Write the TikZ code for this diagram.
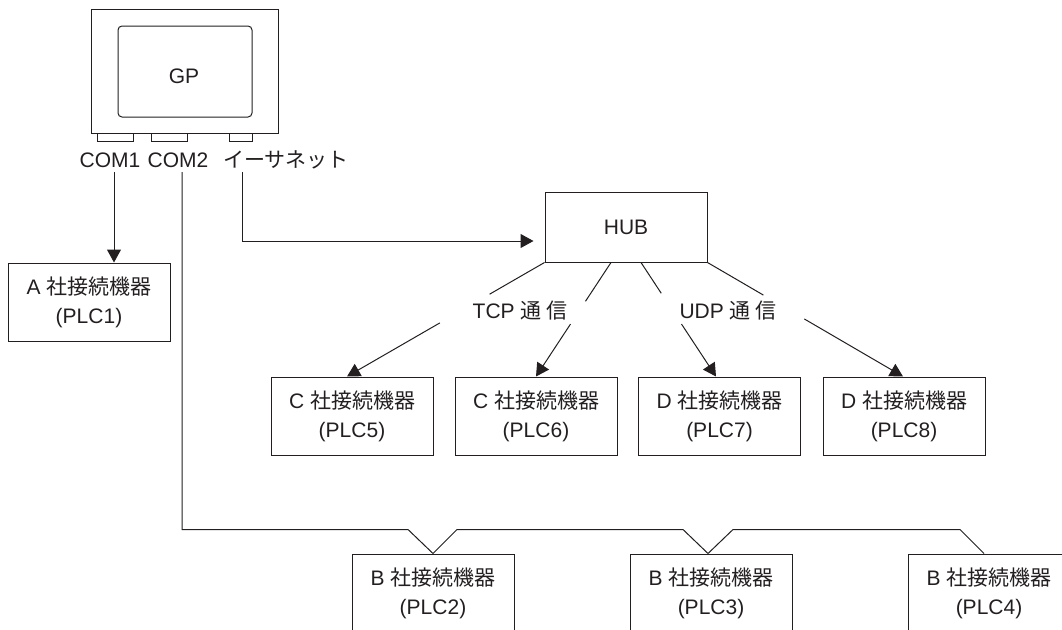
\documentclass[tikz,border=0pt]{standalone}
\usepackage{fontspec}
\setmainfont{Liberation Sans}
\newfontfamily\jp{Noto Sans CJK JP}
\usetikzlibrary{arrows.meta,calc}
\definecolor{ink}{RGB}{35,31,32}
\begin{document}
\begin{tikzpicture}[x=1pt,y=-1pt,
  ln/.style={draw=ink,line width=1pt},
  arr/.style={ln,-{Triangle[length=13pt,width=14pt]}},
  box/.style={draw=ink,line width=1pt,minimum width=162pt,minimum height=78pt,align=center,inner sep=0pt,text=ink,font=\fontsize{21}{29}\selectfont},
  lbl/.style={text=ink,font=\fontsize{21}{25}\selectfont,inner sep=0pt},
  port/.style={draw=ink,line width=1pt,minimum height=8pt,inner sep=0pt}]
\useasboundingbox (0,0) rectangle (1062,629);
\clip (0,0) rectangle (1062,629);
% GP unit
\node[draw=ink,line width=1pt,minimum width=187pt,minimum height=124pt,inner sep=0pt] (gp) at (184.5,71) {};
\node[draw=ink,line width=1pt,rounded corners=4pt,minimum width=134pt,minimum height=91pt,inner sep=0pt] (screen) at (185,71.5) {};
\node[lbl] (gptext) at (184,76) {GP};
\node[port,minimum width=36pt] (p1) at (115,137) {};
\node[port,minimum width=36pt] (p2) at (169,137) {};
\node[port,minimum width=23pt] (p3) at (240.5,137) {};
\node[lbl,anchor=base] (com1) at (110,167) {COM1};
\node[lbl,anchor=base] (com2) at (178,167) {COM2};
\node[lbl,anchor=base] (eth) at (286,167) {\jp イーサネット};
% devices
\node[box] (plc1) at (89,302) {A {\jp 社接続機器}\\(PLC1)};
\node[box,minimum height=70pt] (hub) at (626,227) {HUB};
\node[box] (plc5) at (352,416) {C {\jp 社接続機器}\\(PLC5)};
\node[box] (plc6) at (536,416) {C {\jp 社接続機器}\\(PLC6)};
\node[box] (plc7) at (719.5,416) {D {\jp 社接続機器}\\(PLC7)};
\node[box] (plc8) at (904,416) {D {\jp 社接続機器}\\(PLC8)};
\node[box] (plc2) at (433,593) {B {\jp 社接続機器}\\(PLC2)};
\node[box] (plc3) at (711,593) {B {\jp 社接続機器}\\(PLC3)};
\node[box] (plc4) at (989,593) {B {\jp 社接続機器}\\(PLC4)};
\node[lbl] (tcp) at (520,311) {TCP {\jp 通 信}};
\node[lbl] (udp) at (728,311) {UDP {\jp 通 信}};
% connector anchor points
\coordinate (c1) at (114,172);
\coordinate (c2) at (182,172);
\coordinate (e) at (242,172);
\coordinate (h1) at (hub.south west);
\coordinate (h2) at ($(hub.south)+(-15,0)$);
\coordinate (h3) at ($(hub.south)+(15,0)$);
\coordinate (h4) at (hub.south east);
\coordinate (t5) at ($(plc5.north)+(-5,0)$);
\coordinate (t6) at (plc6.north);
\coordinate (t7) at ($(plc7.north)+(-3.5,0)$);
\coordinate (t8) at ($(plc8.north)+(-1,0)$);
% COM1
\draw[arr] (c1) -- (c1 |- plc1.north);
% Ethernet
\draw[arr] (e) |- ($(hub.west)+(-11,14)$);
% COM2 bus
\draw[ln] (c2) |- ($(plc2.north)+(-25,-24)$) -- (plc2.north) -- ($(plc2.north)+(24,-24)$)
  -- ($(plc3.north)+(-28,-24)$) -- ($(plc3.north)+(-3,0)$) -- ($(plc3.north)+(22,-24)$)
  -- ($(plc4.north)+(-29,-24)$) -- ($(plc4.north)+(-5,0)$);
% HUB branches
\draw[ln] (h1) -- ($(h1)!0.278!(t5)$);
\draw[arr] ($(h1)!0.53!(t5)$) -- (t5);
\draw[ln] (h2) -- ($(h2)!0.34!(t6)$);
\draw[arr] ($(h2)!0.54!(t6)$) -- (t6);
\draw[ln] (h3) -- ($(h3)!0.27!(t7)$);
\draw[arr] ($(h3)!0.54!(t7)$) -- (t7);
\draw[ln] (h4) -- ($(h4)!0.286!(t8)$);
\draw[arr] ($(h4)!0.495!(t8)$) -- (t8);
\end{tikzpicture}
\end{document}
